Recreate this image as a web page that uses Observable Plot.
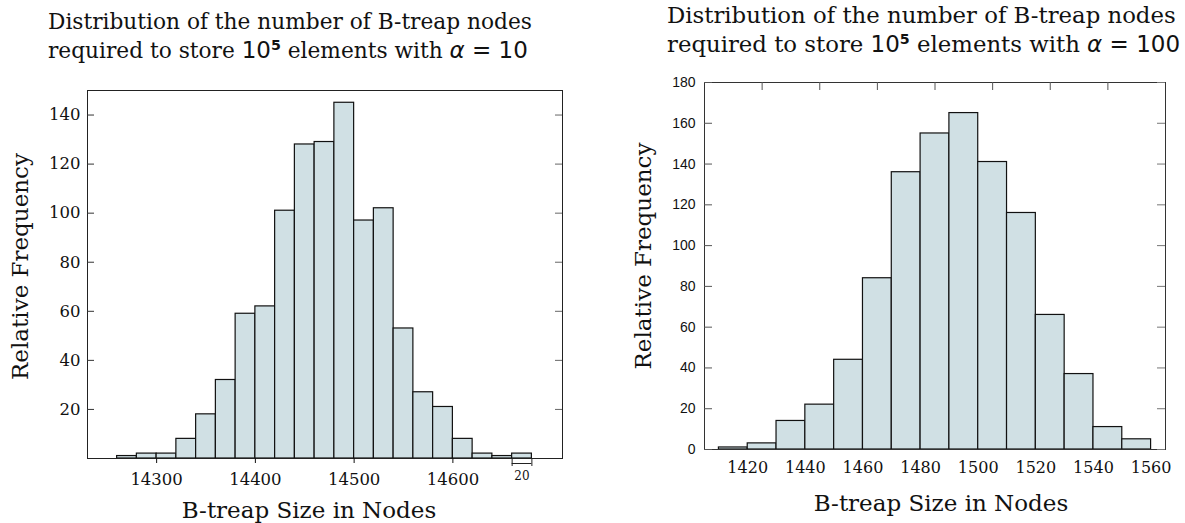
<!DOCTYPE html>
<html><head><meta charset="utf-8">
<script src="https://cdn.jsdelivr.net/npm/d3@7"></script>
<script src="https://cdn.jsdelivr.net/npm/@observablehq/plot@0.6"></script>
<style>
body{margin:0;background:#fff;}
#wrap{position:relative;width:1185px;height:523px;overflow:hidden;background:#fff}
.title{position:absolute;font-family:"DejaVu Serif";font-size:21.7px;line-height:28px;color:#111;white-space:nowrap}
.title.r{font-size:22.8px;line-height:29px}
.m{font-family:"DejaVu Sans";font-size:23px}
.m sup{font-size:0.62em;line-height:0;vertical-align:0.55em;font-weight:bold}
.chart{position:absolute;top:0}
</style></head><body>
<div id="wrap">
<div id="c1" class="chart" style="left:0"></div>
<div id="c2" class="chart" style="left:590px"></div>
<div class="title" style="left:48px;top:8px">Distribution of the number of B-treap nodes<br>required to store <span class="m">10<sup>5</sup></span> elements with <span class="m"><i>α</i> = 10</span></div>
<div class="title r" style="left:667px;top:1px">Distribution of the number of B-treap nodes<br>required to store <span class="m">10<sup>5</sup></span> elements with <span class="m"><i>α</i> = 100</span></div>
</div>
<script>
// ---- data: left chart (alpha = 10) ----
const leftBinStart = [14260,14280,14300,14320,14340,14360,14380,14400,14420,14440,14460,14480,14500,14520,14540,14560,14580,14600,14620,14640,14660];
const leftCounts   = [1,2,2,8,18,32,59,62,101,128,129,145,97,102,53,27,21,8,2,1,2];
const leftBinWidth = 20;
const leftXDomain = [14230, 14711];
const leftYDomain = [0, 150];
const leftXTicks = [14300,14400,14500,14600];
const leftYTicks = [20,40,60,80,100,120,140];

// ---- data: right chart (alpha = 100) ----
const rightBinStart = [1410,1420,1430,1440,1450,1460,1470,1480,1490,1500,1510,1520,1530,1540,1550];
const rightCounts   = [1,3,14,22,44,84,136,155,165,141,116,66,37,11,5];
const rightBinWidth = 10;
const rightXDomain = [1405, 1565];
const rightYDomain = [0, 180];
const rightXTicks = [1420,1440,1460,1480,1500,1520,1540,1560];
const rightTopTicks = [1425,1445,1465,1485,1505,1525,1545];
const rightYTicks = [0,20,40,60,80,100,120,140,160,180];

const xLabel = "B-treap Size in Nodes";
const yLabel = "Relative Frequency";
const barFill = "#d0e0e4";
const H = 523;

// ---- left chart ----
{
  const W = 590, m = {top:90,right:28,bottom:65,left:87};
  const fw = W - m.left - m.right;
  const data = leftBinStart.map((s,i)=>({x1:s, x2:s+leftBinWidth, y:leftCounts[i]}));
  const last = leftBinStart[leftBinStart.length-1];
  const scaleBar = [{x1:last, x2:last+leftBinWidth}];
  const p = Plot.plot({
    width:W, height:H, marginTop:m.top, marginRight:m.right, marginBottom:m.bottom, marginLeft:m.left,
    style:{fontFamily:"DejaVu Serif", fontSize:"16px", color:"#111", background:"transparent"},
    x:{domain:leftXDomain, label:null},
    y:{domain:leftYDomain, label:null},
    marks:[
      Plot.rectY(data,{x1:"x1",x2:"x2",y:"y",fill:barFill,stroke:"#111",strokeWidth:1.2}),
      Plot.frame({stroke:"#222"}),
      Plot.ruleY(leftYTicks,{y:d=>d, stroke:"#333", insetRight:fw-7}),
      Plot.ruleY(leftYTicks,{y:d=>d, stroke:"#666", insetLeft:fw-7}),
      Plot.axisX(leftXTicks,{tickSize:5, tickPadding:10, tickFormat:"d", label:null, fontSize:16.5}),
      Plot.axisY(leftYTicks,{tickSize:0, tickPadding:7, tickFormat:"d", label:null, fontSize:16.5}),
      Plot.ruleY(scaleBar,{x1:"x1", x2:"x2", y:0, dy:5, stroke:"#222"}),
      Plot.ruleX(scaleBar.flatMap(d=>[d.x1,d.x2]),{x:d=>d, y1:0, y2:0, insetTop:1, insetBottom:-8, stroke:"#222"}),
      Plot.text(scaleBar,{x:d=>(d.x1+d.x2)/2, y:0, text:d=>String(d.x2-d.x1), dy:18, fontSize:12}),
      Plot.text([xLabel],{text:d=>d, frameAnchor:"bottom", lineAnchor:"middle", textAnchor:"middle", dy:52, dx:-16, fontSize:23}),
      Plot.text([yLabel],{text:d=>d, frameAnchor:"left", lineAnchor:"middle", textAnchor:"middle", rotate:-90, dx:-67, dy:-8, fontSize:23})
    ]
  });
  document.getElementById("c1").appendChild(p);
}

// ---- right chart ----
{
  const W = 595, m = {top:82,right:20,bottom:74,left:114};
  const fw = W - m.left - m.right, fh = H - m.top - m.bottom;
  const data = rightBinStart.map((s,i)=>({x1:s, x2:s+rightBinWidth, y:rightCounts[i]}));
  const p = Plot.plot({
    width:W, height:H, marginTop:m.top, marginRight:m.right, marginBottom:m.bottom, marginLeft:m.left,
    style:{fontFamily:"DejaVu Serif", fontSize:"16px", color:"#111", background:"transparent"},
    x:{domain:rightXDomain, label:null},
    y:{domain:rightYDomain, label:null},
    marks:[
      Plot.rectY(data,{x1:"x1",x2:"x2",y:"y",fill:barFill,stroke:"#111",strokeWidth:1.2}),
      Plot.frame({stroke:"#333"}),
      Plot.ruleY(rightYTicks,{y:d=>d, stroke:"#555", insetRight:fw-8}),
      Plot.ruleY(rightYTicks,{y:d=>d, stroke:"#777", insetLeft:fw-8}),
      Plot.ruleX(rightTopTicks,{x:d=>d, stroke:"#555", insetBottom:fh-8}),
      Plot.axisX(rightXTicks,{tickSize:0, tickPadding:12, tickFormat:"d", label:null, fontSize:16}),
      Plot.axisY(rightYTicks,{tickSize:0, tickPadding:9, tickFormat:"d", label:null, fontSize:14, fontFamily:"Liberation Sans"}),
      Plot.text([xLabel],{text:d=>d, frameAnchor:"bottom", lineAnchor:"middle", textAnchor:"middle", dy:54, dx:6, fontSize:23}),
      Plot.text([yLabel],{text:d=>d, frameAnchor:"left", lineAnchor:"middle", textAnchor:"middle", rotate:-90, dx:-61, dy:-10, fontSize:23})
    ]
  });
  document.getElementById("c2").appendChild(p);
}
</script>
</body></html>
